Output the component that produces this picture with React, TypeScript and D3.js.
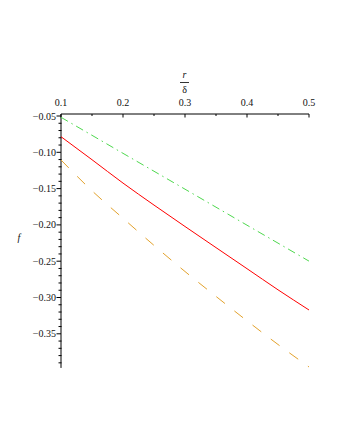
import React from "react";
import * as d3 from "d3";

const xs = [0.1, 0.15, 0.2, 0.25, 0.3, 0.35, 0.4, 0.45, 0.5];
const redF = [-0.0785, -0.1102, -0.1424, -0.1727, -0.2022, -0.2313, -0.2603, -0.2894, -0.3172];
const orangeF = [-0.1106, -0.153, -0.1909, -0.2282, -0.2642, -0.2985, -0.3321, -0.3647, -0.3957];
const greenF = [-0.0518, -0.0766, -0.1014, -0.1261, -0.1508, -0.1756, -0.2004, -0.2251, -0.2499];

const xMajor = [0.1, 0.2, 0.3, 0.4, 0.5];
const xMinor = [0.15, 0.25, 0.35, 0.45];
const yMajor = [-0.05, -0.1, -0.15, -0.2, -0.25, -0.3, -0.35];
const yLabels = ["−0.05", "−0.10", "−0.15", "−0.20", "−0.25", "−0.30", "−0.35"];

export default function App() {
  const x = d3.scaleLinear().domain([0.1, 0.5]).range([61, 309]);
  const y = d3.scaleLinear().domain([-0.05, -0.35]).range([116, 333.8]);
  const yTop = -0.04725;
  const yBottom = -0.397;
  const yMinor = d3.range(-5, -40, -1).map((v) => v / 100).filter((v) => !yMajor.some((m) => Math.abs(m - v) < 1e-9));

  const line = (vals: number[]) =>
    d3
      .line<number>()
      .x((_, i) => x(xs[i]))
      .y((d) => y(d))
      .curve(d3.curveMonotoneX)(vals) || "";

  const fs: React.CSSProperties = { fontFamily: '"Liberation Serif", "DejaVu Serif", serif', fontSize: "10px" };
  const axisY = y(yTop);

  return (
    <svg width={340} height={440} style={{ position: "absolute", left: 0, top: 0, background: "#fff" }}>
      {/* x axis */}
      <line x1={x(0.1)} x2={x(0.5)} y1={axisY} y2={axisY} stroke="#000" strokeWidth={1} />
      {xMajor.map((v) => (
        <g key={"xm" + v}>
          <line x1={x(v)} x2={x(v)} y1={axisY} y2={axisY + 3.5} stroke="#000" strokeWidth={1} />
          <text x={x(v)} y={axisY - 8} textAnchor="middle" style={fs} fill="#111">
            {v.toFixed(1)}
          </text>
        </g>
      ))}
      {xMinor.map((v) => (
        <line key={"xn" + v} x1={x(v)} x2={x(v)} y1={axisY} y2={axisY + 2} stroke="#000" strokeWidth={1} />
      ))}
      {/* y axis */}
      <line x1={x(0.1)} x2={x(0.1)} y1={axisY} y2={y(yBottom)} stroke="#000" strokeWidth={1} />
      {yMajor.map((v, i) => (
        <g key={"ym" + v}>
          <line x1={x(0.1) - 4.5} x2={x(0.1)} y1={y(v)} y2={y(v)} stroke="#000" strokeWidth={1} />
          <text x={x(0.1) - 5} y={y(v) + 3.5} textAnchor="end" style={fs} fill="#111">
            {yLabels[i]}
          </text>
        </g>
      ))}
      {yMinor.map((v) => (
        <line key={"yn" + v} x1={x(0.1) - 2.5} x2={x(0.1) + 0.5} y1={y(v)} y2={y(v)} stroke="#000" strokeWidth={1} />
      ))}
      {/* axis titles */}
      <text x={x(0.3) - 0.5} y={78} textAnchor="middle" style={{ ...fs, fontStyle: "italic" }} fill="#111">
        r
      </text>
      <line x1={x(0.3) - 5} x2={x(0.3) + 4} y1={82.5} y2={82.5} stroke="#000" strokeWidth={0.8} />
      <text x={x(0.3) - 0.5} y={93} textAnchor="middle" style={fs} fill="#111">
        δ
      </text>
      <text x={19} y={241} textAnchor="middle" style={{ ...fs, fontStyle: "italic" }} fill="#111">
        f
      </text>
      {/* curves */}
      <path d={line(greenF)} fill="none" stroke="#4ed84e" strokeWidth={1} strokeDasharray="8,4,1.5,4" />
      <path d={line(redF)} fill="none" stroke="#ff0000" strokeWidth={1} />
      <path d={line(orangeF)} fill="none" stroke="#e3a22c" strokeWidth={1} strokeDasharray="11,12" />
    </svg>
  );
}
